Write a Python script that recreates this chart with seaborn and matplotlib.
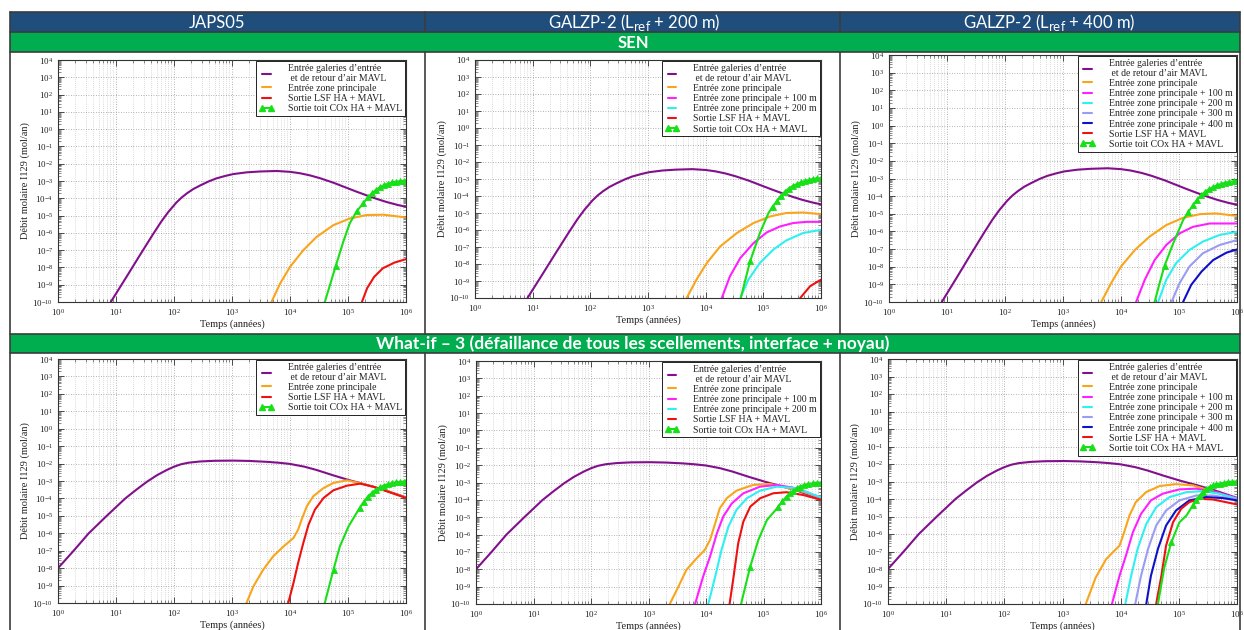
import numpy as np
import matplotlib
matplotlib.use("Agg")
import matplotlib.pyplot as plt
import seaborn as sns
from matplotlib.patches import Rectangle
from matplotlib.lines import Line2D
from matplotlib.ticker import LogLocator, NullFormatter

# ---------------------------------------------------------------- data
# All values are log10 exponents:
# *_t = log10(time in years), *_q = log10(molar flow of I129 in mol/an)

# Purple curve, SEN scenario (identical in the three SEN panels)
sen_gal_t = [0.91, 1.18, 1.41, 1.64, 1.78, 1.9, 2.04, 2.13, 2.22, 2.33, 2.45, 2.6, 2.73, 2.88, 3.02, 3.25,
             3.48, 3.77, 4.0, 4.17, 4.35, 4.52, 4.75, 4.98, 5.15, 5.32, 5.5, 5.67, 5.85, 6.0]
sen_gal_q = [-10.0, -8.55, -7.3, -6.07, -5.35, -4.8, -4.25, -3.96, -3.72, -3.47, -3.26, -3.02, -2.85, -2.71, -2.6, -2.5,
             -2.45, -2.42, -2.47, -2.55, -2.68, -2.84, -3.1, -3.4, -3.62, -3.83, -4.04, -4.22, -4.38, -4.49]

# Purple curve, What-if 3 scenario (identical in the three What-if panels)
wif_gal_t = [0.0, 0.27, 0.53, 0.84, 1.16, 1.35, 1.53, 1.7, 1.88, 2.0, 2.12, 2.25, 2.45, 2.7, 3.03, 3.3, 3.6, 3.8,
             4.0, 4.25, 4.46, 4.75, 5.03, 5.32, 5.61, 6.0]
wif_gal_q = [-8.0, -7.0, -6.0, -5.0, -4.0, -3.5, -3.05, -2.68, -2.36, -2.18, -2.04, -1.95, -1.88, -1.84, -1.83, -1.85,
             -1.9, -1.95, -2.02, -2.18, -2.37, -2.68, -2.96, -3.22, -3.5, -3.94]

# SEN / JAPS05
a_zp_t = [3.68, 3.83, 4.0, 4.23, 4.46, 4.75, 5.03, 5.32, 5.61, 6.0]
a_zp_q = [-10.0, -8.93, -7.97, -7.0, -6.23, -5.55, -5.17, -4.97, -4.95, -5.11]
a_lsf_t = [5.24, 5.33, 5.45, 5.6, 5.8, 6.0]
a_lsf_q = [-10.0, -9.2, -8.55, -8.05, -7.72, -7.52]
a_cox_t = [4.6, 4.7, 4.79, 4.92, 5.03, 5.15, 5.26, 5.34, 5.41, 5.48, 5.55, 5.62, 5.69, 5.76, 5.83, 5.9, 5.96, 6.0]
a_cox_q = [-10.0, -8.9, -7.9, -6.5, -5.45, -4.75, -4.3, -3.95, -3.72, -3.52, -3.36, -3.24, -3.15, -3.08, -3.04, -3.01, -2.99, -2.98]

# SEN / GALZP-2 (Lref + 200 m)
b_zp_t = [3.67, 3.84, 4.02, 4.25, 4.54, 4.83, 5.12, 5.4, 5.69, 6.0]
b_zp_q = [-10.0, -8.92, -7.94, -6.97, -6.18, -5.59, -5.2, -5.0, -4.97, -5.07]
b_zp100_t = [4.28, 4.42, 4.6, 4.83, 5.06, 5.29, 5.52, 5.75, 6.0]
b_zp100_q = [-10.0, -8.73, -7.65, -6.77, -6.14, -5.79, -5.59, -5.52, -5.52]
b_zp200_t = [4.6, 4.74, 4.94, 5.17, 5.4, 5.69, 6.0]
b_zp200_q = [-10.0, -8.92, -7.94, -7.16, -6.61, -6.18, -5.99]
b_lsf_t = [5.64, 5.81, 6.0]
b_lsf_q = [-10.0, -9.31, -8.92]
b_cox_t = [4.61, 4.69, 4.77, 4.94, 5.09, 5.16, 5.23, 5.3, 5.37, 5.44, 5.51, 5.58, 5.65, 5.72, 5.79, 5.86, 5.93, 6.0]
b_cox_q = [-10.0, -8.9, -7.85, -6.18, -5.0, -4.62, -4.32, -4.0, -3.75, -3.56, -3.41, -3.3, -3.2, -3.12, -3.05, -3.0, -2.97, -2.95]

# SEN / GALZP-2 (Lref + 400 m)
c_zp_t = [3.66, 3.83, 4.0, 4.24, 4.49, 4.78, 5.07, 5.36, 5.64, 6.0]
c_zp_q = [-10.0, -8.93, -7.99, -7.05, -6.3, -5.64, -5.23, -5.02, -4.98, -5.12]
c_zp100_t = [4.26, 4.41, 4.58, 4.78, 5.01, 5.24, 5.53, 6.0]
c_zp100_q = [-10.0, -8.74, -7.62, -6.77, -6.11, -5.74, -5.55, -5.55]
c_zp200_t = [4.64, 4.78, 4.95, 5.18, 5.41, 5.7, 6.0]
c_zp200_q = [-10.0, -8.74, -7.8, -7.05, -6.58, -6.2, -6.02]
c_zp300_t = [4.87, 5.01, 5.18, 5.41, 5.7, 6.0]
c_zp300_q = [-10.0, -8.93, -7.99, -7.24, -6.77, -6.49]
c_zp400_t = [5.07, 5.21, 5.39, 5.59, 5.82, 6.0]
c_zp400_q = [-10.0, -9.03, -8.27, -7.62, -7.2, -7.02]
c_cox_t = [4.58, 4.66, 4.75, 4.9, 5.07, 5.16, 5.24, 5.31, 5.38, 5.45, 5.52, 5.59, 5.66, 5.73, 5.8, 5.87, 5.94, 6.0]
c_cox_q = [-10.0, -9.0, -7.95, -6.68, -5.36, -4.9, -4.52, -4.2, -3.95, -3.75, -3.6, -3.48, -3.38, -3.3, -3.24, -3.19, -3.16, -3.14]

# What-if 3 / JAPS05
d_zp_t = [3.25, 3.37, 3.54, 3.71, 3.89, 4.06, 4.14, 4.2, 4.29, 4.4, 4.58, 4.75, 4.98, 5.21, 5.49, 6.0]
d_zp_q = [-10.0, -9.04, -8.08, -7.32, -6.75, -6.27, -5.79, -5.22, -4.45, -3.88, -3.4, -3.11, -2.96, -3.13, -3.38, -3.95]
d_lsf_t = [3.97, 4.06, 4.14, 4.23, 4.32, 4.43, 4.58, 4.75, 4.98, 5.21, 5.44, 6.0]
d_lsf_q = [-10.0, -8.85, -7.7, -6.55, -5.5, -4.64, -3.97, -3.53, -3.27, -3.15, -3.33, -3.97]
d_cox_t = [4.6, 4.66, 4.75, 4.86, 5.01, 5.2, 5.27, 5.34, 5.41, 5.48, 5.55, 5.62, 5.69, 5.76, 5.83, 5.9, 5.96, 6.0]
d_cox_q = [-10.0, -9.23, -8.08, -6.75, -5.6, -4.55, -4.2, -3.9, -3.68, -3.5, -3.37, -3.26, -3.18, -3.12, -3.08, -3.05, -3.03, -3.02]

# What-if 3 / GALZP-2 (Lref + 200 m)
e_zp_t = [3.37, 3.52, 3.66, 3.84, 3.98, 4.07, 4.16, 4.24, 4.36, 4.53, 4.82, 5.11, 5.4, 5.7, 6.0]
e_zp_q = [-10.0, -9.0, -8.03, -7.36, -6.88, -6.31, -5.35, -4.48, -3.91, -3.47, -3.14, -3.08, -3.3, -3.55, -3.9]
e_zp100_t = [3.81, 3.95, 4.07, 4.19, 4.3, 4.45, 4.65, 4.94, 5.23, 5.52, 5.75, 6.0]
e_zp100_q = [-10.0, -8.42, -7.27, -5.92, -4.96, -4.2, -3.62, -3.24, -3.14, -3.3, -3.55, -3.88]
e_zp200_t = [4.04, 4.16, 4.27, 4.39, 4.53, 4.71, 4.94, 5.23, 5.52, 5.75, 6.0]
e_zp200_q = [-10.0, -8.42, -6.88, -5.54, -4.58, -3.91, -3.47, -3.24, -3.31, -3.55, -3.86]
e_lsf_t = [4.41, 4.48, 4.56, 4.65, 4.77, 4.94, 5.17, 5.4, 5.69, 6.0]
e_lsf_q = [-10.0, -8.42, -6.5, -5.25, -4.39, -3.91, -3.62, -3.56, -3.72, -4.0]
e_cox_t = [4.61, 4.69, 4.77, 4.91, 5.06, 5.26, 5.33, 5.4, 5.46, 5.52, 5.58, 5.63, 5.7, 5.78, 5.86, 5.93, 6.0]
e_cox_q = [-10.0, -8.9, -7.84, -6.31, -5.16, -4.39, -4.08, -3.81, -3.62, -3.47, -3.34, -3.24, -3.15, -3.08, -3.04, -3.01, -3.0]

# What-if 3 / GALZP-2 (Lref + 400 m)
f_zp_t = [3.4, 3.57, 3.75, 3.89, 3.98, 4.06, 4.15, 4.26, 4.44, 4.67, 4.95, 5.24, 5.59, 6.0]
f_zp_q = [-10.0, -8.49, -7.44, -6.96, -6.67, -5.9, -4.95, -4.18, -3.6, -3.26, -3.15, -3.22, -3.57, -3.99]
f_zp100_t = [3.85, 3.98, 4.09, 4.21, 4.35, 4.52, 4.72, 5.01, 5.3, 5.59, 6.0]
f_zp100_q = [-10.0, -8.39, -7.24, -5.9, -4.85, -4.08, -3.7, -3.45, -3.41, -3.57, -3.95]
f_zp200_t = [4.08, 4.18, 4.29, 4.44, 4.61, 4.84, 5.13, 5.41, 5.7, 6.0]
f_zp200_q = [-10.0, -8.39, -6.86, -5.43, -4.47, -3.89, -3.61, -3.55, -3.7, -3.99]
f_zp300_t = [4.25, 4.35, 4.47, 4.61, 4.78, 5.01, 5.3, 5.59, 6.0]
f_zp300_q = [-10.0, -8.39, -6.86, -5.52, -4.66, -4.08, -3.8, -3.8, -4.03]
f_zp400_t = [4.44, 4.52, 4.64, 4.78, 4.95, 5.18, 5.47, 5.76, 6.0]
f_zp400_q = [-10.0, -8.39, -6.86, -5.52, -4.66, -4.08, -3.89, -3.95, -4.08]
f_lsf_t = [4.61, 4.7, 4.78, 4.9, 5.04, 5.18, 5.36, 5.59, 6.0]
f_lsf_q = [-10.0, -8.39, -6.67, -5.33, -4.56, -4.18, -3.99, -4.03, -4.31]
f_cox_t = [4.64, 4.75, 4.87, 5.01, 5.13, 5.24, 5.3, 5.36, 5.41, 5.47, 5.53, 5.59, 5.64, 5.7, 5.77, 5.84, 5.92, 6.0]
f_cox_q = [-10.0, -7.92, -6.48, -5.33, -4.95, -4.37, -4.05, -3.8, -3.6, -3.41, -3.3, -3.22, -3.17, -3.13, -3.08, -3.03, -3.01, -2.99]

col_titles = ["JAPS05", r"GALZP-2 (L$_{\mathrm{ref}}$ + 200 m)", r"GALZP-2 (L$_{\mathrm{ref}}$ + 400 m)"]
row_titles = ["SEN", "What-if – 3 (défaillance de tous les scellements, interface + noyau)"]

labels = {
    "gal": "Entrée galeries d’entrée\n et de retour d’air MAVL",
    "zp": "Entrée zone principale",
    "zp100": "Entrée zone principale + 100 m",
    "zp200": "Entrée zone principale + 200 m",
    "zp300": "Entrée zone principale + 300 m",
    "zp400": "Entrée zone principale + 400 m",
    "lsf": "Sortie LSF HA + MAVL",
    "cox": "Sortie toit COx HA + MAVL",
}
x_label = "Temps (années)"
y_label = "Débit molaire I129 (mol/an)"

# ---------------------------------------------------------------- style
colors = {"gal": "#82108c", "zp": "#f9a51b", "zp100": "#ff1fff", "zp200": "#2ef0f0",
          "zp300": "#9a9cf4", "zp400": "#1010c8", "lsf": "#ee1111", "cox": "#18e018"}

sns.set_style("ticks")
plt.rcParams["font.family"] = ["Liberation Serif", "DejaVu Serif"]
plt.rcParams["mathtext.fontset"] = "stix"

W, H = 1244, 630
fig = plt.figure(figsize=(W / 100, H / 100), dpi=100)


def fx(x):
    return x / W


def fy(y):
    return 1 - y / H


def rect(x0, y0, x1, y1, color):
    fig.add_artist(Rectangle((fx(x0), fy(y1)), fx(x1) - fx(x0), fy(y0) - fy(y1),
                             transform=fig.transFigure, facecolor=color, edgecolor="none", zorder=0))


def hline(x0, x1, y, lw=1.2):
    fig.add_artist(Line2D([fx(x0), fx(x1)], [fy(y), fy(y)], transform=fig.transFigure,
                          color="#3c3c3c", lw=lw, zorder=5))


def vline(x, y0, y1, lw=1.2):
    fig.add_artist(Line2D([fx(x), fx(x)], [fy(y0), fy(y1)], transform=fig.transFigure,
                          color="#3c3c3c", lw=lw, zorder=5))


BLUE = "#1f4e7d"
GREEN = "#00ad4f"
rect(10, 12, 1240, 32, BLUE)
rect(10, 32, 1240, 52, GREEN)
rect(10, 334, 1240, 353, GREEN)
for y in (12, 32, 52, 334, 353):
    hline(10, 1240, y)
vline(10, 12, 630)
vline(1240, 12, 630)
for x in (425, 840):
    vline(x, 12, 32)
    vline(x, 52, 334)
    vline(x, 353, 630)

hdr_font = ["Lato", "DejaVu Sans"]
for cx, title in zip((217, 634, 1049), col_titles):
    fig.text(fx(cx), fy(22.5), title, color="white", fontsize=12, family=hdr_font,
             ha="center", va="center", math_fontfamily="dejavusans")
fig.text(fx(633), fy(42.5), row_titles[0], color="white", fontsize=12, family=hdr_font,
         fontweight="bold", ha="center", va="center")
fig.text(fx(633), fy(344), row_titles[1], color="white", fontsize=12.5, family=hdr_font,
         fontweight="bold", ha="center", va="center")

# axes boxes in pixels: (left, top, right, bottom)
boxes = [
    (58, 60, 406, 302), (475, 60, 821, 298), (889, 55, 1237, 302),
    (58, 359, 406, 603), (476, 361, 821, 604), (888, 359, 1237, 604),
]

panels = [
    dict(series=[("gal", sen_gal_t, sen_gal_q), ("zp", a_zp_t, a_zp_q),
                 ("lsf", a_lsf_t, a_lsf_q), ("cox", a_cox_t, a_cox_q)],
         legend=["gal", "zp", "lsf", "cox"]),
    dict(series=[("gal", sen_gal_t, sen_gal_q), ("zp", b_zp_t, b_zp_q),
                 ("zp100", b_zp100_t, b_zp100_q), ("zp200", b_zp200_t, b_zp200_q),
                 ("lsf", b_lsf_t, b_lsf_q), ("cox", b_cox_t, b_cox_q)],
         legend=["gal", "zp", "zp100", "zp200", "lsf", "cox"]),
    dict(series=[("gal", sen_gal_t, sen_gal_q), ("zp", c_zp_t, c_zp_q),
                 ("zp100", c_zp100_t, c_zp100_q), ("zp200", c_zp200_t, c_zp200_q),
                 ("zp300", c_zp300_t, c_zp300_q), ("zp400", c_zp400_t, c_zp400_q),
                 ("cox", c_cox_t, c_cox_q)],
         legend=["gal", "zp", "zp100", "zp200", "zp300", "zp400", "lsf", "cox"]),
    dict(series=[("gal", wif_gal_t, wif_gal_q), ("zp", d_zp_t, d_zp_q),
                 ("lsf", d_lsf_t, d_lsf_q), ("cox", d_cox_t, d_cox_q)],
         legend=["gal", "zp", "lsf", "cox"]),
    dict(series=[("gal", wif_gal_t, wif_gal_q), ("zp", e_zp_t, e_zp_q),
                 ("zp100", e_zp100_t, e_zp100_q), ("zp200", e_zp200_t, e_zp200_q),
                 ("lsf", e_lsf_t, e_lsf_q), ("cox", e_cox_t, e_cox_q)],
         legend=["gal", "zp", "zp100", "zp200", "lsf", "cox"]),
    dict(series=[("gal", wif_gal_t, wif_gal_q), ("zp", f_zp_t, f_zp_q),
                 ("zp100", f_zp100_t, f_zp100_q), ("zp200", f_zp200_t, f_zp200_q),
                 ("zp300", f_zp300_t, f_zp300_q), ("zp400", f_zp400_t, f_zp400_q),
                 ("lsf", f_lsf_t, f_lsf_q), ("cox", f_cox_t, f_cox_q)],
         legend=["gal", "zp", "zp100", "zp200", "zp300", "zp400", "lsf", "cox"]),
]

LW = 1.5
MS = 5
for (l, t, r, b), panel in zip(boxes, panels):
    ax = fig.add_axes([fx(l), fy(b), fx(r) - fx(l), fy(t) - fy(b)])
    ax.set_xscale("log")
    ax.set_yscale("log")
    for key, lt, lq in panel["series"]:
        xs = 10.0 ** np.asarray(lt)
        ys = 10.0 ** np.asarray(lq)
        kw = {}
        if key == "cox":
            n = len(xs)
            kw = dict(marker="^", markersize=MS, markeredgewidth=0.6, markeredgecolor=colors[key],
                      markevery=[2] + [i for i in range(5, n)])
        sns.lineplot(x=xs, y=ys, ax=ax, color=colors[key], lw=LW, sort=False,
                     estimator=None, **kw)
    ax.set_xlim(1, 1e6)
    ax.set_ylim(1e-10, 1e4)
    ax.xaxis.set_major_locator(LogLocator(base=10, numticks=20))
    ax.yaxis.set_major_locator(LogLocator(base=10, numticks=40))
    ax.xaxis.set_minor_locator(LogLocator(base=10, subs=np.arange(2, 10), numticks=200))
    ax.yaxis.set_minor_locator(LogLocator(base=10, subs=np.arange(2, 10), numticks=400))
    ax.xaxis.set_minor_formatter(NullFormatter())
    ax.yaxis.set_minor_formatter(NullFormatter())
    ax.tick_params(which="both", direction="in", top=True, right=True, colors="#333333")
    ax.tick_params(which="major", length=4, width=0.6, labelsize=6.5, pad=3.5, labelcolor="#222222")
    ax.tick_params(which="minor", length=2.2, width=0.4)
    ax.grid(True, which="major", axis="both", ls=(0, (1, 2)), color="#9a9a9a", lw=0.6)
    ax.grid(True, which="minor", axis="x", ls=(0, (1, 2)), color="#b8b8b8", lw=0.5)
    for sp in ax.spines.values():
        sp.set_color("#333333")
        sp.set_linewidth(0.8)
    ax.set_xlabel(x_label, fontsize=7.5, labelpad=1, color="#222222")
    ax.set_ylabel(y_label, fontsize=7.5, labelpad=2, color="#222222")

    handles = [Line2D([], [], color=colors[k], lw=LW,
                      marker=("^" if k == "cox" else ""), markersize=MS) for k in panel["legend"]]
    leg = ax.legend(handles, [labels[k] for k in panel["legend"]], loc="upper right",
                    fontsize=7, frameon=True, fancybox=False, edgecolor="#222222", framealpha=1,
                    borderpad=0.3, labelspacing=0.12, handlelength=1.5, handletextpad=1.4,
                    borderaxespad=0.15, numpoints=2)
    leg.get_frame().set_linewidth(0.7)
    for txt in leg.get_texts():
        txt.set_linespacing(1.05)
        txt.set_color("#222222")

fig.savefig("out.png", dpi=100, facecolor="white")
